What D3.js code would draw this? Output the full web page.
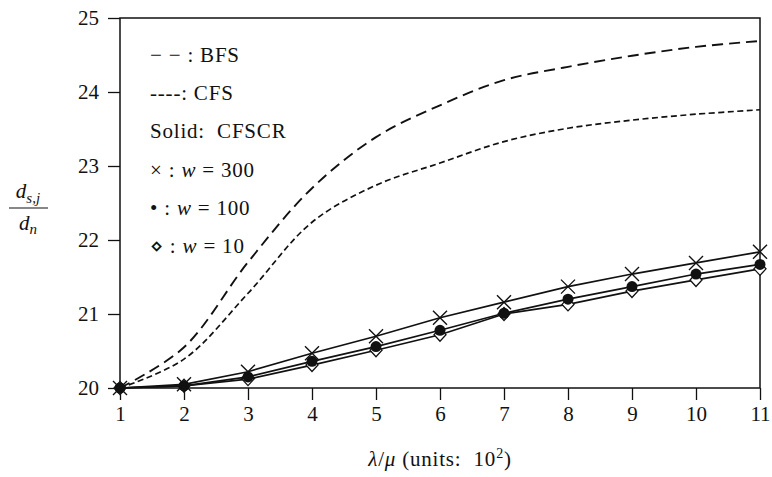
<!DOCTYPE html>
<html>
<head>
<meta charset="utf-8">
<script src="https://cdn.jsdelivr.net/npm/d3@7"></script>
<style>
  html, body { margin: 0; padding: 0; background: #fff; overflow: hidden; }
  svg { display: block; }
  svg text { font-family: "Liberation Serif", serif; fill: #111; }
</style>
</head>
<body>
<svg width="772" height="477"></svg>
<script>
const loads = [1, 2, 3, 4, 5, 6, 7, 8, 9, 10, 11];
const bfs = [20.00, 20.55, 21.70, 22.70, 23.39, 23.82, 24.16, 24.34, 24.49, 24.61, 24.69];
const cfs = [20.00, 20.39, 21.28, 22.24, 22.74, 23.04, 23.33, 23.51, 23.62, 23.70, 23.76];
const cfscrW300 = [20.00, 20.05, 20.22, 20.47, 20.70, 20.95, 21.16, 21.37, 21.54, 21.69, 21.84];
const cfscrW100 = [20.00, 20.03, 20.15, 20.36, 20.56, 20.78, 21.01, 21.20, 21.37, 21.54, 21.67];
const cfscrW10 = [20.00, 20.03, 20.12, 20.31, 20.51, 20.72, 21.00, 21.13, 21.31, 21.46, 21.61];
const xTicks = [1, 2, 3, 4, 5, 6, 7, 8, 9, 10, 11];
const yTicks = [20, 21, 22, 23, 24, 25];

const FONT = '"Liberation Serif", serif';

const svg = d3.select('svg');
const width = +svg.attr('width');
const height = +svg.attr('height');
const margin = { top: 18, right: 12, bottom: 89, left: 120 };
const innerWidth = width - margin.left - margin.right;
const innerHeight = height - margin.top - margin.bottom;

const root = svg.append('g')
  .attr('transform', `translate(${margin.left}, ${margin.top})`);

const xScale = d3.scaleLinear().domain([1, 11]).range([0, innerWidth]);
const yScale = d3.scaleLinear().domain([20, 25]).range([innerHeight, 0]);

// axes
const xAxis = d3.axisBottom(xScale).tickValues(xTicks).tickFormat(d3.format('d'))
  .tickSize(12).tickSizeOuter(0).tickPadding(6);
const yAxis = d3.axisLeft(yScale).tickValues(yTicks).tickFormat(d3.format('d'))
  .tickSize(12).tickSizeOuter(0).tickPadding(9);

const gx = root.append('g').attr('transform', `translate(0, ${innerHeight})`).call(xAxis);
const gy = root.append('g').call(yAxis);
[gx, gy].forEach(g => {
  g.attr('font-family', FONT).attr('font-size', 21);
  g.select('.domain').remove();
  g.selectAll('line').attr('stroke', '#111').attr('stroke-width', 1.3);
  g.selectAll('text').attr('fill', '#111');
});

root.append('rect')
  .attr('width', innerWidth)
  .attr('height', innerHeight)
  .attr('fill', 'none')
  .attr('stroke', '#111')
  .attr('stroke-width', 1.5);

const series = d => loads.map((x, i) => ({ x, y: d[i] }));

const smooth = d3.line()
  .x(d => xScale(d.x))
  .y(d => yScale(d.y))
  .curve(d3.curveCatmullRom.alpha(0.5));
const straight = d3.line()
  .x(d => xScale(d.x))
  .y(d => yScale(d.y));

root.append('path')
  .attr('d', smooth(series(bfs)))
  .attr('fill', 'none').attr('stroke', '#111')
  .attr('stroke-width', 1.9).attr('stroke-dasharray', '11,6');
root.append('path')
  .attr('d', smooth(series(cfs)))
  .attr('fill', 'none').attr('stroke', '#111')
  .attr('stroke-width', 1.7).attr('stroke-dasharray', '6,3.5');

[cfscrW300, cfscrW100, cfscrW10].forEach(s => {
  root.append('path')
    .attr('d', straight(series(s)))
    .attr('fill', 'none').attr('stroke', '#111')
    .attr('stroke-width', 1.7);
});

// markers
root.selectAll('.diamond').data(series(cfscrW10)).join('path')
  .attr('class', 'diamond')
  .attr('d', 'M0,-6.5L6,0L0,6.5L-6,0Z')
  .attr('transform', d => `translate(${xScale(d.x)}, ${yScale(d.y)})`)
  .attr('fill', '#fff').attr('stroke', '#111').attr('stroke-width', 1.3);

root.selectAll('.dot').data(series(cfscrW100)).join('circle')
  .attr('class', 'dot')
  .attr('cx', d => xScale(d.x))
  .attr('cy', d => yScale(d.y))
  .attr('r', 5.5)
  .attr('fill', '#111');

root.selectAll('.cross').data(series(cfscrW300)).join('path')
  .attr('class', 'cross')
  .attr('d', 'M-7,-7L7,7M-7,7L7,-7')
  .attr('transform', d => `translate(${xScale(d.x)}, ${yScale(d.y)})`)
  .attr('fill', 'none').attr('stroke', '#111').attr('stroke-width', 1.4);

// legend
const legend = svg.append('g').attr('font-family', FONT).attr('font-size', 21);
const legendRows = [
  [['\u2212 \u2212 : ', false], ['BFS', false]],
  [['----: ', false], ['CFS', false]],
  [['Solid:  CFSCR', false]],
  [['\u00d7 : ', false], ['w', true], [' = 300', false]],
  [['\u2022 : ', false], ['w', true], [' = 100', false]],
  [['\u22c4 : ', false], ['w', true], [' = 10', false]]
];
legendRows.forEach((row, i) => {
  const t = legend.append('text')
    .attr('x', 150)
    .attr('y', 62 + i * 38.2)
    .style('white-space', 'pre')
    .style('letter-spacing', '0.8px');
  row.forEach(([s, it]) => {
    t.append('tspan').text(s).style('font-style', it ? 'italic' : 'normal');
  });
});

// x title
const xt = svg.append('text')
  .attr('x', margin.left + innerWidth / 2)
  .attr('y', 466)
  .attr('text-anchor', 'middle')
  .attr('font-family', FONT)
  .attr('font-size', 21)
  .style('white-space', 'pre')
  .style('letter-spacing', '0.8px');
xt.append('tspan').text('\u03bb').style('font-style', 'italic');
xt.append('tspan').text('/');
xt.append('tspan').text('\u03bc').style('font-style', 'italic');
xt.append('tspan').text(' (units:  10');
xt.append('tspan').text('2').attr('dy', -8).attr('font-size', 14);
xt.append('tspan').text(')').attr('dy', 8);

// y title (fraction)
const yt = svg.append('g').attr('font-family', FONT).attr('font-size', 21);
const num = yt.append('text').attr('x', 28).attr('y', 198).attr('text-anchor', 'middle');
num.append('tspan').text('d').style('font-style', 'italic');
num.append('tspan').text('s,j').attr('dy', 5).attr('font-size', 15).style('font-style', 'italic');
yt.append('line')
  .attr('x1', 9).attr('x2', 48).attr('y1', 208).attr('y2', 208)
  .attr('stroke', '#111').attr('stroke-width', 1.2);
const den = yt.append('text').attr('x', 28).attr('y', 230).attr('text-anchor', 'middle');
den.append('tspan').text('d').style('font-style', 'italic');
den.append('tspan').text('n').attr('dy', 4).attr('font-size', 15).style('font-style', 'italic');
</script>
</body>
</html>
